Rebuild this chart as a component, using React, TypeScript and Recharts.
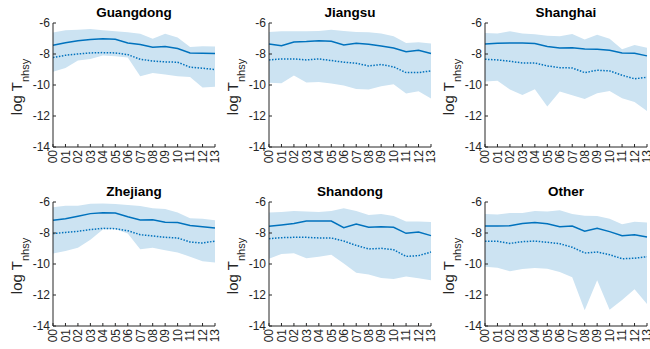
import React from 'react';
import { ComposedChart, Area, Line, XAxis, YAxis } from 'recharts';

const years = ['00', '01', '02', '03', '04', '05', '06', '07', '08', '09', '10', '11', '12', '13'];
const yTicks = [-14, -12, -10, -8, -6];

const guangdongMedian = [-7.44, -7.27, -7.14, -7.07, -7.01, -7.05, -7.29, -7.39, -7.57, -7.52, -7.65, -7.93, -7.95, -7.97];
const guangdongMean = [-8.23, -8.08, -8.0, -7.93, -7.91, -7.93, -8.04, -8.34, -8.45, -8.51, -8.53, -8.85, -8.92, -9.0];
const guangdongHigh = [-6.62, -6.47, -6.43, -6.39, -6.47, -6.54, -6.6, -6.69, -7.01, -6.69, -6.94, -7.55, -7.5, -7.52];
const guangdongLow = [-9.15, -8.9, -8.42, -8.32, -8.1, -8.15, -8.23, -9.43, -9.22, -9.33, -9.43, -9.48, -10.16, -10.12];

const jiangsuMedian = [-7.35, -7.46, -7.22, -7.2, -7.14, -7.18, -7.42, -7.31, -7.37, -7.48, -7.61, -7.85, -7.76, -7.97];
const jiangsuMean = [-8.38, -8.32, -8.32, -8.38, -8.32, -8.42, -8.53, -8.6, -8.77, -8.68, -8.83, -9.2, -9.2, -9.09];
const jiangsuHigh = [-6.58, -6.54, -6.54, -6.54, -6.52, -6.43, -6.52, -6.58, -6.6, -6.67, -6.86, -7.29, -7.24, -7.33];
const jiangsuLow = [-9.86, -9.88, -9.39, -9.84, -9.8, -9.91, -10.03, -10.25, -10.29, -10.08, -9.95, -10.55, -10.4, -10.87];

const shanghaiMedian = [-7.35, -7.31, -7.29, -7.29, -7.33, -7.52, -7.61, -7.59, -7.67, -7.7, -7.76, -7.93, -7.95, -8.12];
const shanghaiMean = [-8.34, -8.38, -8.47, -8.58, -8.58, -8.77, -8.88, -8.9, -9.2, -9.05, -9.09, -9.37, -9.6, -9.5];
const shanghaiHigh = [-6.64, -6.67, -6.54, -6.67, -6.73, -6.82, -6.86, -6.71, -7.07, -6.75, -7.01, -7.7, -7.42, -7.59];
const shanghaiLow = [-9.78, -9.73, -10.29, -10.64, -10.27, -11.39, -10.42, -10.66, -10.91, -10.53, -10.38, -10.85, -11.09, -11.67];

const zhejiangMedian = [-7.18, -7.08, -6.92, -6.75, -6.69, -6.71, -6.95, -7.16, -7.14, -7.31, -7.33, -7.51, -7.59, -7.68];
const zhejiangMean = [-8.04, -7.96, -7.89, -7.78, -7.7, -7.72, -7.85, -8.11, -8.19, -8.28, -8.32, -8.58, -8.65, -8.52];
const zhejiangHigh = [-6.34, -6.24, -6.24, -6.11, -6.09, -6.13, -6.19, -6.26, -6.41, -6.45, -6.67, -7.05, -7.08, -7.18];
const zhejiangLow = [-9.33, -9.16, -8.95, -8.43, -7.78, -7.74, -8.04, -9.05, -8.95, -9.12, -9.25, -9.53, -9.83, -9.91];

const shandongMedian = [-7.57, -7.48, -7.38, -7.23, -7.23, -7.23, -7.66, -7.42, -7.63, -7.59, -7.63, -8.02, -7.94, -8.17];
const shandongMean = [-8.37, -8.3, -8.28, -8.28, -8.32, -8.32, -8.52, -8.8, -9.03, -8.99, -9.08, -9.51, -9.46, -9.23];
const shandongHigh = [-6.67, -6.65, -6.58, -6.62, -6.65, -6.58, -6.41, -6.58, -6.84, -6.77, -6.9, -7.25, -7.25, -7.29];
const shandongLow = [-9.66, -9.35, -9.31, -9.63, -9.53, -9.4, -9.96, -10.56, -10.67, -10.9, -10.97, -10.8, -10.92, -11.05];

const otherMedian = [-7.55, -7.55, -7.53, -7.38, -7.33, -7.4, -7.59, -7.55, -7.89, -7.7, -7.91, -8.17, -8.11, -8.26];
const otherMean = [-8.54, -8.54, -8.67, -8.56, -8.52, -8.6, -8.69, -8.92, -9.29, -9.23, -9.4, -9.66, -9.63, -9.53];
const otherHigh = [-6.77, -6.8, -6.71, -6.71, -6.58, -6.62, -6.54, -6.77, -6.88, -6.9, -7.08, -7.44, -7.27, -7.33];
const otherLow = [-10.17, -10.24, -10.47, -10.32, -10.26, -10.3, -10.52, -10.86, -12.99, -11.05, -12.95, -12.32, -11.63, -12.58];

const regions = [
  { name: 'Guangdong', median: guangdongMedian, mean: guangdongMean, high: guangdongHigh, low: guangdongLow },
  { name: 'Jiangsu', median: jiangsuMedian, mean: jiangsuMean, high: jiangsuHigh, low: jiangsuLow },
  { name: 'Shanghai', median: shanghaiMedian, mean: shanghaiMean, high: shanghaiHigh, low: shanghaiLow },
  { name: 'Zhejiang', median: zhejiangMedian, mean: zhejiangMean, high: zhejiangHigh, low: zhejiangLow },
  { name: 'Shandong', median: shandongMedian, mean: shandongMean, high: shandongHigh, low: shandongLow },
  { name: 'Other', median: otherMedian, mean: otherMean, high: otherHigh, low: otherLow },
];

const FONT = '"Liberation Sans", Arial, Helvetica, sans-serif';
const AXIS = '#262626';
const BLUE = '#0072BD';
const BAND = '#cce3f2';

const XTick = (props: any) => {
  const { x, y, payload } = props;
  return (
    <text
      x={x}
      y={y}
      transform={`rotate(-90 ${x} ${y})`}
      textAnchor="end"
      dy="0.36em"
      fontSize={12}
      fontFamily={FONT}
      fill={AXIS}
    >
      {payload.value}
    </text>
  );
};

const YLabel = () => (
  <text
    transform="translate(22, 87) rotate(-90)"
    textAnchor="middle"
    fontSize={15}
    fontFamily={FONT}
    fill={AXIS}
  >
    log T<tspan fontSize={11} dy={7}>nhsy</tspan>
  </text>
);

const Panel = ({ region, left, top, height, xAxisHeight }: any) => {
  const data = years.map((yr, i) => ({
    year: yr,
    band: [region.low[i], region.high[i]],
    median: region.median[i],
    mean: region.mean[i],
  }));
  return (
    <div style={{ position: 'absolute', left, top, width: 224, height }}>
      <div
        style={{
          position: 'absolute',
          left: 53,
          width: 162,
          top: 5,
          textAlign: 'center',
          fontFamily: FONT,
          fontWeight: 'bold',
          fontSize: 13.5,
          lineHeight: '15px',
          color: '#000',
        }}
      >
        {region.name}
      </div>
      <ComposedChart
        width={224}
        height={height}
        data={data}
        margin={{ top: 23, right: 9, bottom: 0, left: 0 }}
      >
        <XAxis
          dataKey="year"
          type="category"
          height={xAxisHeight}
          interval={0}
          tick={<XTick />}
          tickSize={-3}
          tickMargin={6}
          stroke={AXIS}
          tickLine={{ stroke: AXIS }}
          axisLine={{ stroke: AXIS }}
          padding={{ left: 0, right: 0 }}
        />
        <YAxis
          type="number"
          domain={[-14, -6]}
          ticks={yTicks}
          width={53}
          tickSize={-3}
          tickMargin={6}
          stroke={AXIS}
          tick={{ fontSize: 12, fontFamily: FONT, fill: AXIS }}
          allowDataOverflow
          label={<YLabel />}
        />
        <Area
          dataKey="band"
          type="linear"
          stroke="none"
          fill={BAND}
          fillOpacity={1}
          isAnimationActive={false}
          activeDot={false}
          dot={false}
        />
        <Line
          dataKey="median"
          type="linear"
          stroke={BLUE}
          strokeWidth={1.5}
          dot={false}
          activeDot={false}
          isAnimationActive={false}
        />
        <Line
          dataKey="mean"
          type="linear"
          stroke={BLUE}
          strokeWidth={1.5}
          strokeDasharray="1.5 1.5"
          dot={false}
          activeDot={false}
          isAnimationActive={false}
        />
      </ComposedChart>
    </div>
  );
};

export default function App() {
  return (
    <div style={{ position: 'absolute', left: 0, top: 0, width: 650, height: 349, background: '#fff', overflow: 'hidden' }}>
      {regions.map((r, i) => {
        const col = i % 3;
        const row = Math.floor(i / 3);
        return (
          <Panel
            key={r.name}
            region={r}
            left={col * 216}
            top={row === 0 ? 0 : 179}
            height={row === 0 ? 175 : 170}
            xAxisHeight={row === 0 ? 28 : 23}
          />
        );
      })}
    </div>
  );
}
